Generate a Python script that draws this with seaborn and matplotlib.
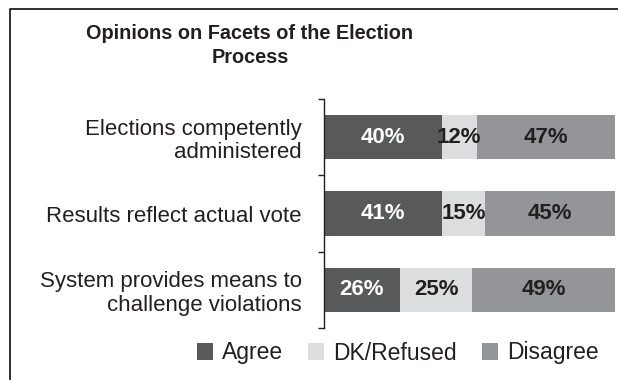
import matplotlib
matplotlib.use("Agg")
import matplotlib.pyplot as plt
from matplotlib.lines import Line2D
from matplotlib.patches import Patch
import numpy as np
import pandas as pd
import seaborn as sns

# Survey items and response shares (percent)
questions = [
    "Elections competently\nadministered",
    "Results reflect actual vote",
    "System provides means to\nchallenge violations",
]
agree = [40, 41, 26]
dk_refused = [12, 15, 25]
disagree = [47, 45, 49]
responses = ["Agree", "DK/Refused", "Disagree"]
colors = ["#58595b", "#dcdddf", "#939598"]
label_colors = ["white", "#231f20", "#231f20"]
title_lines = ["Opinions on Facets of the Election", "Process"]

sns.set_theme(style="white")
plt.rcParams["font.family"] = ["Liberation Sans", "DejaVu Sans"]

df = pd.DataFrame({"question": questions, "Agree": agree,
                   "DK/Refused": dk_refused, "Disagree": disagree})
totals = df[responses].sum(axis=1)
# rows are scaled to a full 100% width
shares = df[responses].div(totals, axis=0) * 100
cum = shares.cumsum(axis=1)

fig = plt.figure(figsize=(6.18, 3.80), dpi=100)
ax = fig.add_axes([324 / 618, 1 - 328 / 380, (615 - 324) / 618, (328 - 99) / 380])

# stacked bars: draw the cumulative totals from the longest down
for resp, col in reversed(list(zip(responses, colors))):
    sns.barplot(x=cum[resp], y=df["question"], orient="h", color=col,
                width=0.58, saturation=1, ax=ax, linewidth=0)

# segment value labels
for i in range(len(questions)):
    start = 0
    for resp, lc in zip(responses, label_colors):
        w = shares.loc[i, resp]
        ax.text(start + w / 2, i, f"{df.loc[i, resp]}%", ha="center", va="center",
                fontsize=16, fontweight="bold", color=lc)
        start += w

ax.set_xlim(0, 100)
ax.set_ylim(2.5, -0.5)
ax.set_xlabel("")
ax.set_ylabel("")
ax.set_xticks([])
for s in ["top", "right", "bottom"]:
    ax.spines[s].set_visible(False)
ax.spines["left"].set_color("#231f20")
ax.spines["left"].set_linewidth(1.0)
ax.set_yticks([-0.5, 0.5, 1.5, 2.5], minor=True)
ax.tick_params(axis="y", which="minor", length=4, width=1.0, color="#231f20", left=True)
ax.tick_params(axis="y", which="major", length=0, pad=16, labelsize=16,
               labelcolor="#231f20")
for t in ax.get_yticklabels():
    t.set_ha("right")
    t.set_multialignment("right")
    t.set_linespacing(1.15)

for line, yb in zip(title_lines, [39, 63]):
    fig.text(250 / 618, 1 - yb / 380, line, ha="center", va="baseline",
             fontsize=14.3, fontweight="bold", color="#231f20")

handles = [Patch(facecolor=c, edgecolor="none", label=r) for r, c in zip(responses, colors)]
fig.legend(handles=handles, loc="center", bbox_to_anchor=(398 / 618, 1 - 353 / 380),
           ncol=3, frameon=False, fontsize=16.5, handlelength=0.7, handleheight=0.7,
           handletextpad=0.4, columnspacing=1.1, labelcolor="#231f20",
           borderpad=0, borderaxespad=0)

# frame around the panel
fig.add_artist(Line2D([10 / 618, 10 / 618, 1.0], [0.0, 1 - 9 / 380, 1 - 9 / 380],
                      transform=fig.transFigure, color="#231f20", linewidth=1.3))

fig.savefig("out.png", dpi=100)
